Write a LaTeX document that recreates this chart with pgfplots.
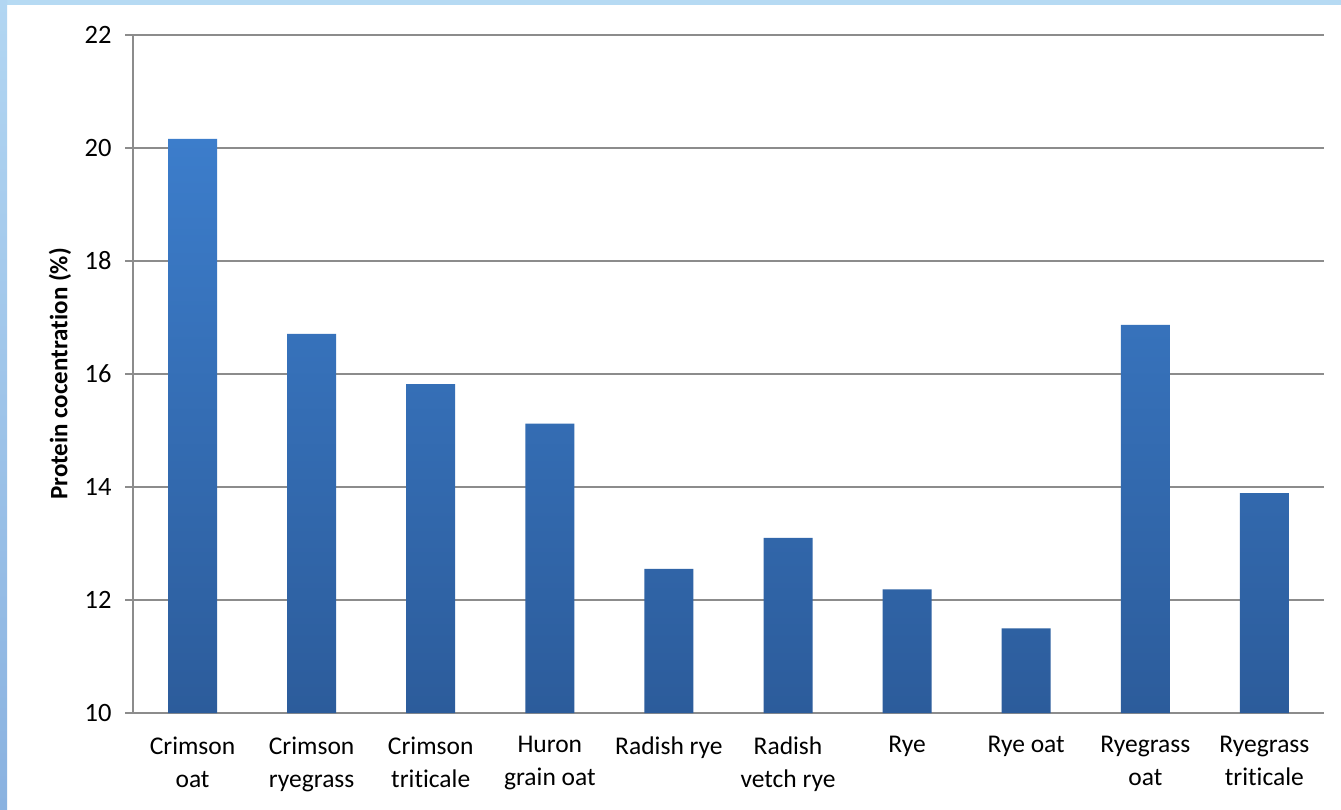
\documentclass[border=0pt]{standalone}
\usepackage{pgfplots}
\pgfplotsset{compat=1.18}
\usepackage{fontspec}
\setmainfont{Carlito}[Ligatures=NoCommon]

\definecolor{gridgray}{HTML}{8C8C8C}
\definecolor{bartop}{HTML}{3C7DCB}
\definecolor{barbot}{HTML}{2C5C9B}
\definecolor{frametop}{HTML}{B6DAF3}
\definecolor{frameleftTop}{HTML}{B2D6F2}
\definecolor{frameleftBot}{HTML}{8AB2E0}

\begin{document}
\begin{tikzpicture}[x=1pt,y=1pt]
  % page background and frame bands
  \fill[white] (0,0) rectangle (1341,809);
  \fill[frametop] (0,804) rectangle (1341,809);
  \shade[top color=frameleftTop, bottom color=frameleftBot] (0,0) rectangle (7,809);

  \begin{axis}[
    at={(133pt,96pt)}, anchor=south west,
    width=1191pt, height=678pt, scale only axis,
    xmin=-0.5, xmax=9.5,
    ymin=10, ymax=22,
    ytick={10,12,...,22},
    xtick={0,...,9},
    xticklabels={{Crimson\\oat},{Crimson\\ryegrass},{Crimson\\triticale},{Huron\\grain oat},{Radish rye},{Radish\\vetch rye},{Rye},{Rye oat},{Ryegrass\\oat},{Ryegrass\\triticale}},
    major x tick style={draw=none},
    extra x ticks={-0.5,0.5,...,9.5},
    extra x tick labels={},
    extra x tick style={grid=none, tick style={draw=gridgray, line width=1.4pt}, major tick length=8pt},
    xtick pos=bottom, ytick pos=left,
    tick align=outside,
    major tick length=8pt,
    ymajorgrids,
    grid style={gridgray, line width=1.4pt},
    axis line style={gridgray, line width=1.4pt},
    y tick style={gridgray, line width=1.4pt},
    axis x line*=bottom, axis y line*=left,
    xticklabel style={align=center, font=\fontsize{25.5}{33}\selectfont, yshift=-12pt},
    yticklabel style={font=\fontsize{26.5}{30}\selectfont, xshift=-10pt},
    /pgf/number format/assume math mode=true,
    ylabel={\textbf{Protein cocentration (\%)}},
    every axis y label/.style={at={(rel axis cs:0,0.5)}, rotate=90, anchor=center,
      yshift=73pt, font=\fontsize{25}{30}\selectfont},
    clip=false,
  ]
    \addplot[ybar, bar width=49pt, draw=none, top color=bartop, bottom color=barbot]
      coordinates {
        (0,20.16) (1,16.71) (2,15.82) (3,15.12) (4,12.55)
        (5,13.10) (6,12.19) (7,11.50) (8,16.87) (9,13.89)
      };
  \end{axis}
\end{tikzpicture}
\end{document}
